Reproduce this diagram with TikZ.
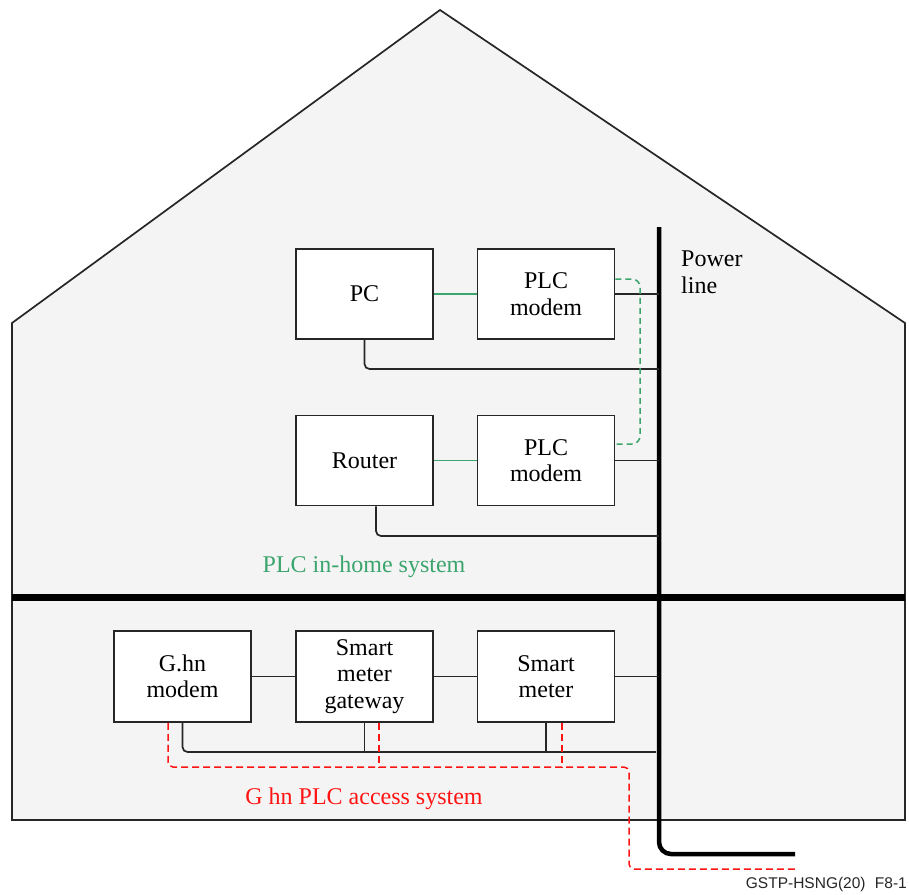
\documentclass[tikz,border=0pt]{standalone}
\usepackage{fontspec}
\setmainfont{Liberation Serif}
\newfontfamily\arialfont{Liberation Sans}
\definecolor{housefill}{RGB}{244,244,244}
\definecolor{plcgreen}{RGB}{60,165,110}
\definecolor{ghnred}{RGB}{255,20,20}
\begin{document}
\begin{tikzpicture}[x=1pt,y=-1pt,
  devbox/.style={draw=black!85,line width=1.7pt,fill=white,minimum width=137pt,minimum height=90pt,
     align=center,inner sep=0pt,font=\fontsize{24}{26.5}\selectfont},
  wire/.style={draw=black!85,line width=1.7pt},
  greenwire/.style={draw=plcgreen,line width=1.5pt},
  greendash/.style={draw=plcgreen,line width=1.5pt,dash pattern=on 6pt off 4pt,rounded corners=8pt},
  reddash/.style={draw=ghnred,line width=1.5pt,dash pattern=on 7pt off 4pt,rounded corners=5pt},
  lbl/.style={font=\fontsize{24}{26.5}\selectfont,inner sep=0pt}]
\useasboundingbox (0,0) rectangle (909,894);
% house
\coordinate (apex) at (440,10);
\coordinate (lt) at (12,323);
\coordinate (rt) at (905,323);
\coordinate (lb) at (12,820);
\coordinate (rb) at (905,820);
\draw[fill=housefill,draw=black!85,line width=1.7pt] (lb) -- (lt) -- (apex) -- (rt) -- (rb) -- cycle;
% floor
\coordinate (fl) at (12,597);
\coordinate (fr) at (905,597);
\draw[line width=7pt] (fl) -- (fr);
% power line
\coordinate (pltop) at (659,227);
\coordinate (plend) at (795,854);
\draw[line width=4.5pt,rounded corners=12pt] (pltop) |- (plend);
\node[lbl,anchor=base west,align=left] (pwr) at (681,293) {Power\\line};
% boxes
\node[devbox] (pc) at (364.5,294) {PC};
\node[devbox] (plc1) at (546,294) {PLC\\modem};
\node[devbox] (router) at (364.5,460.5) {Router};
\node[devbox] (plc2) at (546,460.5) {PLC\\modem};
\node[devbox,minimum height=91pt] (ghn) at (182.5,676.5) {G.hn\\modem};
\node[devbox,minimum height=91pt] (smg) at (364.5,676.5) {Smart\\meter\\gateway};
\node[devbox,minimum height=91pt] (sm) at (546,676.5) {Smart\\meter};
% upper connections
\draw[greenwire] (pc.east) -- (plc1.west);
\draw[greenwire] (router.east) -- (plc2.west);
\draw[wire] (plc1.east) -- (plc1.east -| pltop);
\draw[wire] (plc2.east) -- (plc2.east -| pltop);
\coordinate (pcj) at (659,369);
\coordinate (rtj) at (659,536);
\draw[wire,rounded corners=5pt] (pc.south) |- (pcj);
\draw[wire,rounded corners=5pt] ([xshift=11.5pt]router.south) |- (rtj);
\coordinate (gd1) at (640,279);
\coordinate (gd2) at (640,444);
\draw[greendash] ([yshift=15pt]plc1.east) -- (gd1) -- (gd2) -- ([yshift=16.5pt]plc2.east);
% lower connections
\draw[wire] (ghn.east) -- (smg.west);
\draw[wire] (smg.east) -- (sm.west);
\draw[wire] (sm.east) -- (sm.east -| pltop);
\coordinate (bj) at (656,752);
\draw[wire,rounded corners=5pt] (ghn.south) |- (bj);
\draw[wire] (smg.south) -- (smg.south |- bj);
\draw[wire] (sm.south) -- (sm.south |- bj);
\coordinate (rd1) at (629,767);
\coordinate (rdend) at (795,869);
\draw[reddash] ([xshift=-14.5pt]ghn.south) |- (rd1) |- (rdend);
\draw[reddash] ([xshift=14.5pt]smg.south) -- ([xshift=14.5pt]smg.south |- rd1);
\draw[reddash] ([xshift=16pt]sm.south) -- ([xshift=16pt]sm.south |- rd1);
% labels
\node[lbl,anchor=base,text=plcgreen] (inhome) at (364,572) {PLC in-home system};
\node[lbl,anchor=base,text=ghnred] (access) at (364,804) {G hn PLC access system};
\node[anchor=base east,inner sep=0pt,font=\arialfont\fontsize{15.5}{18}\selectfont,text=black!85] (fig) at (907,888) {GSTP-HSNG(20)\hspace{0.6em}F8-1};
\end{tikzpicture}
\end{document}
